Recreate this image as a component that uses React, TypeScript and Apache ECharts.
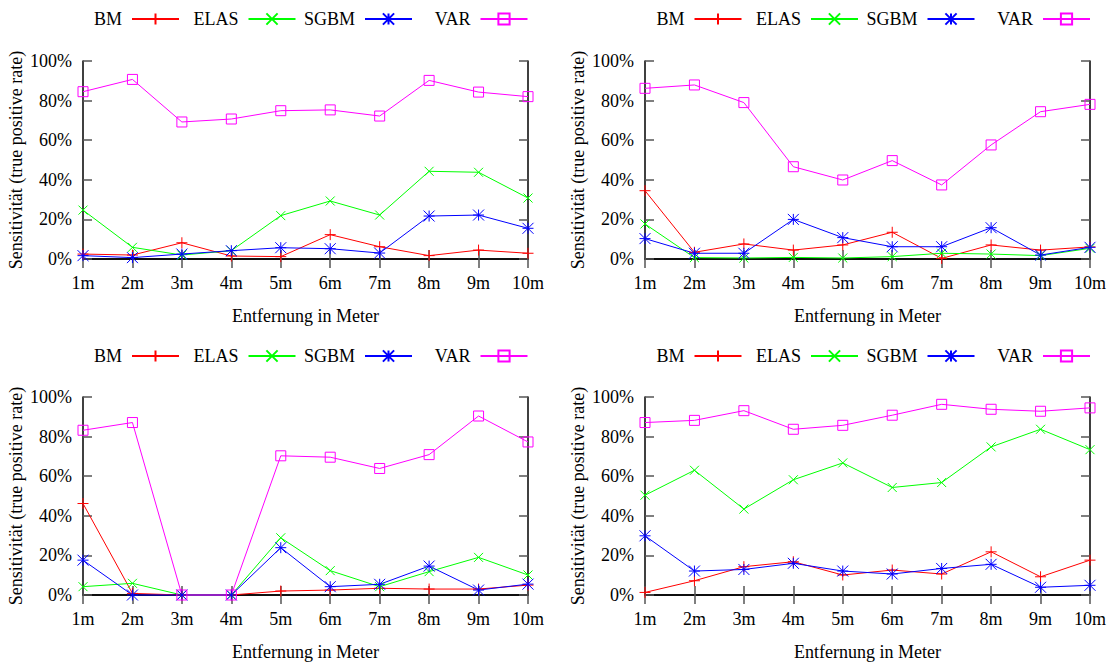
import React, { useEffect, useRef } from "react";
import * as echarts from "echarts";

const categories = ["1m", "2m", "3m", "4m", "5m", "6m", "7m", "8m", "9m", "10m"];
const seriesNames = ["BM", "ELAS", "SGBM", "VAR"];

// Panel 1 (top left)
const p1BM = [2.5, 2.0, 8.2, 1.5, 1.2, 12.3, 6.2, 1.7, 4.5, 2.9];
const p1ELAS = [24.7, 5.9, 2.0, 4.2, 21.9, 29.3, 22.2, 44.3, 43.8, 30.8];
const p1SGBM = [1.7, 0.7, 2.5, 4.2, 5.7, 5.2, 3.0, 21.7, 22.2, 15.5];
const p1VAR = [84.5, 90.7, 69.2, 70.7, 74.9, 75.3, 72.2, 90.2, 84.3, 82.0];

// Panel 2 (top right)
const p2BM = [34.5, 3.4, 7.6, 4.5, 7.1, 13.5, 0.3, 7.1, 4.5, 6.1];
const p2ELAS = [17.7, 0.7, 0.5, 0.8, 0.5, 1.2, 2.9, 2.5, 1.7, 5.4];
const p2SGBM = [10.3, 2.9, 2.9, 20.0, 10.8, 6.2, 6.2, 15.8, 2.0, 5.9];
const p2VAR = [86.2, 87.9, 79.0, 46.6, 39.9, 49.7, 37.4, 57.6, 74.4, 78.1];

// Panel 3 (bottom left)
const p3BM = [46.2, 0.8, 0, 0, 2.0, 2.5, 3.4, 3.0, 3.0, 5.0];
const p3ELAS = [4.2, 5.9, 0, 0, 28.9, 12.3, 4.2, 11.8, 19.0, 10.1];
const p3SGBM = [17.6, 0, 0, 0, 23.9, 4.2, 5.4, 14.6, 2.5, 5.5];
const p3VAR = [83.2, 87.1, 0, 0, 70.3, 69.6, 63.9, 70.9, 90.4, 77.3];

// Panel 4 (bottom right)
const p4BM = [1.3, 7.2, 14.3, 16.8, 10.1, 12.6, 10.6, 21.8, 9.2, 17.6];
const p4ELAS = [50.4, 63.0, 43.4, 58.2, 66.7, 54.3, 56.8, 74.8, 83.7, 73.4];
const p4SGBM = [29.9, 12.1, 12.9, 16.0, 12.1, 10.6, 13.4, 15.5, 3.9, 4.9];
const p4VAR = [87.1, 88.2, 93.1, 83.7, 85.7, 90.8, 96.3, 93.8, 92.8, 94.5];

const panels = [
  [p1BM, p1ELAS, p1SGBM, p1VAR],
  [p2BM, p2ELAS, p2SGBM, p2VAR],
  [p3BM, p3ELAS, p3SGBM, p3VAR],
  [p4BM, p4ELAS, p4SGBM, p4VAR],
];

const FONT = "Liberation Serif, Times New Roman, serif";
const FS = 18;

const styles = [
  { color: "#ff0000", symbol: "path://M5,0L5,10M0,5L10,5", size: 11, fill: "#ff0000" },
  { color: "#00ff00", symbol: "path://M0,0L10,10M10,0L0,10", size: 9, fill: "#00ff00" },
  { color: "#0000ff", symbol: "path://M5,0L5,10M0,5L10,5M0,0L10,10M10,0L0,10", size: 11, fill: "#0000ff" },
  { color: "#ff00ff", symbol: "path://M0,0L10,0L10,10L0,10Z", size: 10, fill: "rgba(0,0,0,0)" },
];

const gridLefts = [83, 645, 83, 645];
const gridTops = [61, 61, 397, 397];
const GW = 445;
const GH = 198;
const legendEnds = [180, 296.5, 413, 528.5];
const legendTops = [10, 10, 347, 347];

export default function App() {
  const ref = useRef<HTMLDivElement>(null);
  useEffect(() => {
    if (!ref.current) return;
    const chart = echarts.init(ref.current, null, { renderer: "svg" });
    const grid: any[] = [];
    const xAxis: any[] = [];
    const yAxis: any[] = [];
    const series: any[] = [];
    const legend: any[] = [];
    const axisLine = { show: true, lineStyle: { color: "#000", width: 1.5 } };
    const tick = { show: true, inside: true, length: 9, lineStyle: { color: "#555", width: 1.5 } };
    for (let p = 0; p < 4; p++) {
      grid.push({ left: gridLefts[p], top: gridTops[p], width: GW, height: GH, containLabel: false });
      xAxis.push({
        type: "category", gridIndex: p, data: categories, boundaryGap: false, position: "bottom",
        axisLine, axisTick: tick, splitLine: { show: false },
        axisLabel: { color: "#000", fontFamily: FONT, fontSize: FS, margin: 15 },
        name: "Entfernung in Meter", nameLocation: "middle", nameGap: 48,
        nameTextStyle: { color: "#000", fontFamily: FONT, fontSize: FS },
      });
      xAxis.push({
        type: "category", gridIndex: p, data: categories, boundaryGap: false, position: "top",
        axisLine, axisTick: tick, axisLabel: { show: false }, splitLine: { show: false },
      });
      yAxis.push({
        type: "value", gridIndex: p, min: 0, max: 100, interval: 20, position: "left",
        axisLine, axisTick: tick, splitLine: { show: false },
        axisLabel: { color: "#000", fontFamily: FONT, fontSize: FS, margin: 11, formatter: "{value}%" },
        name: "Sensitivität (true positive rate)", nameLocation: "middle", nameGap: 58, nameRotate: 90,
        nameTextStyle: { color: "#000", fontFamily: FONT, fontSize: FS },
      });
      yAxis.push({
        type: "value", gridIndex: p, min: 0, max: 100, interval: 20, position: "right",
        axisLine, axisTick: tick, axisLabel: { show: false }, splitLine: { show: false },
      });
      for (let s = 0; s < 4; s++) {
        const st = styles[s];
        series.push({
          type: "line", name: seriesNames[s], xAxisIndex: 2 * p, yAxisIndex: 2 * p,
          data: panels[p][s], clip: false, symbol: st.symbol, symbolSize: st.size, showAllSymbol: true,
          lineStyle: { color: st.color, width: 1 },
          itemStyle: { color: st.fill, borderColor: st.color, borderWidth: 1 },
          emphasis: { disabled: true },
        });
        const offset = p % 2 === 1 ? 562.5 : 0;
        legend.push({
          data: [seriesNames[s]], right: 1112 - (legendEnds[s] + offset), top: legendTops[p],
          padding: 0, align: "right", itemWidth: 47, itemHeight: 14, selectedMode: false,
          textStyle: { color: "#000", fontFamily: FONT, fontSize: FS, padding: [0, 5, 0, 0] },
        });
      }
    }
    chart.setOption({
      animation: false,
      backgroundColor: "#fff",
      grid, xAxis, yAxis, series, legend,
    });
    return () => chart.dispose();
  }, []);
  return <div ref={ref} style={{ position: "absolute", left: 0, top: 0, width: 1112, height: 664 }} />;
}
